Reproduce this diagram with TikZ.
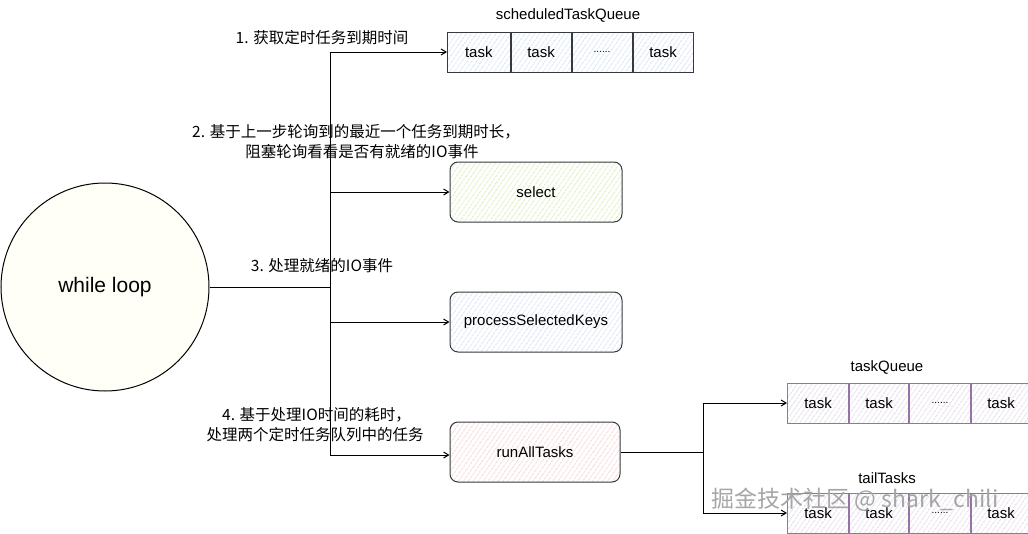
\documentclass[tikz,border=0pt]{standalone}
\usepackage{fontspec}
\setmainfont{Liberation Sans}
\newfontfamily\cjk{Noto Sans CJK SC}
\usetikzlibrary{arrows.meta,patterns.meta}
\definecolor{edge}{HTML}{36393D}
\definecolor{blueh}{HTML}{9DBCE8}
\definecolor{greenh}{HTML}{A9D65A}
\definecolor{redh}{HTML}{F09A9A}
\definecolor{purph}{HTML}{BFA5CE}
\definecolor{purpe}{HTML}{9673A6}
\tikzset{
  x=1pt,y=-1pt,
  conn/.style={draw=black,line width=1pt,-{Straight Barb[length=5pt,width=6pt]}},
  line/.style={draw=black,line width=1pt},
  hatch/.style 2 args={preaction={fill=#1},pattern={Lines[angle=55,distance=4pt,line width=0.5pt]},pattern color=#2},
  rbox/.style={draw=edge,line width=1pt,rounded corners=8pt,minimum width=172pt,minimum height=60pt,font=\fontsize{15}{18}\selectfont,inner sep=0pt},
  cell/.style={draw=#1,line width=1pt,minimum height=40pt,inner sep=0pt,font=\fontsize{15}{18}\selectfont},
  lbl/.style={font=\cjk\fontsize{15.5}{20}\selectfont,align=center,inner sep=0pt},
  ttl/.style={font=\fontsize{15}{18}\selectfont,inner sep=0pt}
}
\begin{document}
\begin{tikzpicture}
\useasboundingbox (0,0) rectangle (1028,533);
% while loop
\node[circle,draw=black,line width=1pt,fill={rgb,255:red,255;green,255;blue,248},minimum size=208pt,inner sep=0pt,font=\fontsize{21}{25}\selectfont] (loop) at (105,287) {while loop};
% trunk
\coordinate (tj) at (330,287);
\coordinate (t1) at (330,52);
\coordinate (t2) at (330,192);
\coordinate (t3) at (330,322);
\coordinate (t4) at (330,455);
\draw[line] (loop.east) -- (tj);
\draw[line] (t1) -- (t4);
% scheduledTaskQueue
\node[cell=edge,hatch={white}{blueh},minimum width=63pt,anchor=west] (s1) at (447,52) {task};
\node[cell=edge,hatch={white}{blueh},minimum width=60pt,anchor=west] (s2) at (s1.east) {task};
\node[cell=edge,hatch={white}{blueh},minimum width=60pt,anchor=west] (s3) at (s2.east) {\fontsize{10}{12}\selectfont ......};
\node[cell=edge,hatch={white}{blueh},minimum width=60pt,anchor=west] (s4) at (s3.east) {task};
\node[ttl] (stitle) at (568,15) {scheduledTaskQueue};
% boxes
\node[rbox,hatch={white}{greenh}] (sel) at (536,192) {select};
\node[rbox,hatch={white}{blueh}] (psk) at (536,322) {processSelectedKeys};
\node[rbox,hatch={white}{redh},minimum width=170pt] (rat) at (535,452) {runAllTasks};
% arrows from trunk
\draw[conn] (t1) -- (s1.west);
\draw[conn] (t2) -- (sel.west);
\draw[conn] (t3) -- (psk.west);
\draw[conn] (t4) -- (rat.west |- t4);
% labels
\node[lbl] (l1) at (322,38) {1. 获取定时任务到期时间};
\node[lbl] (l2) at (356,142) {2. 基于上一步轮询到的最近一个任务到期时长，\\\hspace*{12pt}阻塞轮询看看是否有就绪的IO事件};
\node[lbl] (l3) at (322,266) {3. 处理就绪的IO事件};
\node[lbl] (l4) at (315,425) {\hspace*{3pt}4. 基于处理IO时间的耗时，\\处理两个定时任务队列中的任务};
% taskQueue
\node[cell=purpe,hatch={white}{purph},minimum width=61pt,anchor=west] (q1) at (787,403) {task};
\node[cell=purpe,hatch={white}{purph},minimum width=59pt,anchor=west] (q2) at (q1.east) {task};
\node[cell=purpe,hatch={white}{purph},minimum width=61pt,anchor=west] (q3) at (q2.east) {\fontsize{10}{12}\selectfont ......};
\node[cell=purpe,hatch={white}{purph},minimum width=59pt,anchor=west] (q4) at (q3.east) {task};
\node[ttl] (qtitle) at (887,367) {taskQueue};
% tailTasks
\node[cell=purpe,hatch={white}{purph},minimum width=61pt,anchor=west] (r1) at (787,513) {task};
\node[cell=purpe,hatch={white}{purph},minimum width=59pt,anchor=west] (r2) at (r1.east) {task};
\node[cell=purpe,hatch={white}{purph},minimum width=61pt,anchor=west] (r3) at (r2.east) {\fontsize{10}{12}\selectfont ......};
\node[cell=purpe,hatch={white}{purph},minimum width=59pt,anchor=west] (r4) at (r3.east) {task};
\node[ttl] (rtitle) at (887,478) {tailTasks};
% branch
\coordinate (bj) at (703,452);
\coordinate (b1) at (703,403);
\coordinate (b2) at (703,513);
\draw[line] (rat.east) -- (bj);
\draw[line] (b1) -- (b2);
\draw[conn] (b1) -- (q1.west);
\draw[conn] (b2) -- (r1.west);
% watermark
\node[font=\cjk\fontsize{23}{25}\selectfont,text=gray!70,inner sep=0pt] (wm) at (855,500) {掘金技术社区 @ shark\_chili};
\end{tikzpicture}
\end{document}
